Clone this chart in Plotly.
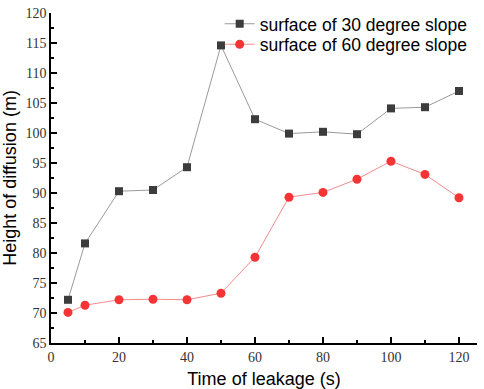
import plotly.graph_objects as go

time_s = [5, 10, 20, 30, 40, 50, 60, 70, 80, 90, 100, 110, 120]
slope30 = [72.2, 81.6, 90.3, 90.5, 94.3, 114.6, 102.3, 99.9, 100.2, 99.8, 104.1, 104.3, 107.0]
slope60 = [70.1, 71.3, 72.2, 72.3, 72.2, 73.3, 79.3, 89.3, 90.1, 92.3, 95.3, 93.1, 89.2]

fig = go.Figure()
fig.add_trace(go.Scatter(
    x=time_s, y=slope30, mode="lines+markers", name="surface of 30 degree slope",
    line=dict(color="#9a9a9a", width=1), showlegend=True,
    marker=dict(symbol="square", size=8, color="#3c3c3c"), legend="legend"))
fig.add_trace(go.Scatter(
    x=time_s, y=slope60, mode="lines+markers", name="surface of 60 degree slope",
    line=dict(color="#f28c8c", width=1), showlegend=True,
    marker=dict(symbol="circle", size=9, color="#f53535"), legend="legend2"))

axis_common = dict(
    showline=True, linecolor="black", linewidth=1.5, mirror=False,
    ticks="inside", ticklen=6, tickwidth=1.5, tickcolor="black",
    showgrid=False, zeroline=False, automargin=False,
    tickfont=dict(family="Liberation Serif", size=14, color="#333333"),
)

fig.update_xaxes(
    range=[0, 125.3], tick0=0, dtick=20,
    minor=dict(ticks="inside", ticklen=3, tickwidth=1.5, tickcolor="black", dtick=10, tick0=0),
    title=dict(text="Time of leakage (s)", font=dict(family="Liberation Sans", size=18, color="black")),
    **axis_common)
fig.update_yaxes(
    range=[65, 120], tick0=65, dtick=5,
    minor=dict(ticks="inside", ticklen=3, tickwidth=1.5, tickcolor="black", dtick=2.5, tick0=65),
    title=dict(text="Height of diffusion (m)", font=dict(family="Liberation Sans", size=18, color="black")),
    **axis_common)

leg_common = dict(xanchor="left", yanchor="middle",
                  font=dict(family="Liberation Sans", size=17.5, color="black"),
                  bgcolor="rgba(0,0,0,0)", itemsizing="trace", borderwidth=0)
fig.update_layout(
    width=484, height=389, showlegend=True,
    margin=dict(l=51, r=7, t=6, b=46),
    plot_bgcolor="white", paper_bgcolor="white",
    legend=dict(x=0.396, y=0.967, **leg_common),
    legend2=dict(x=0.396, y=0.905, **leg_common),
)

fig.write_html("out.html", config={"displayModeBar": False},
               post_script="document.body.style.margin='0';")
